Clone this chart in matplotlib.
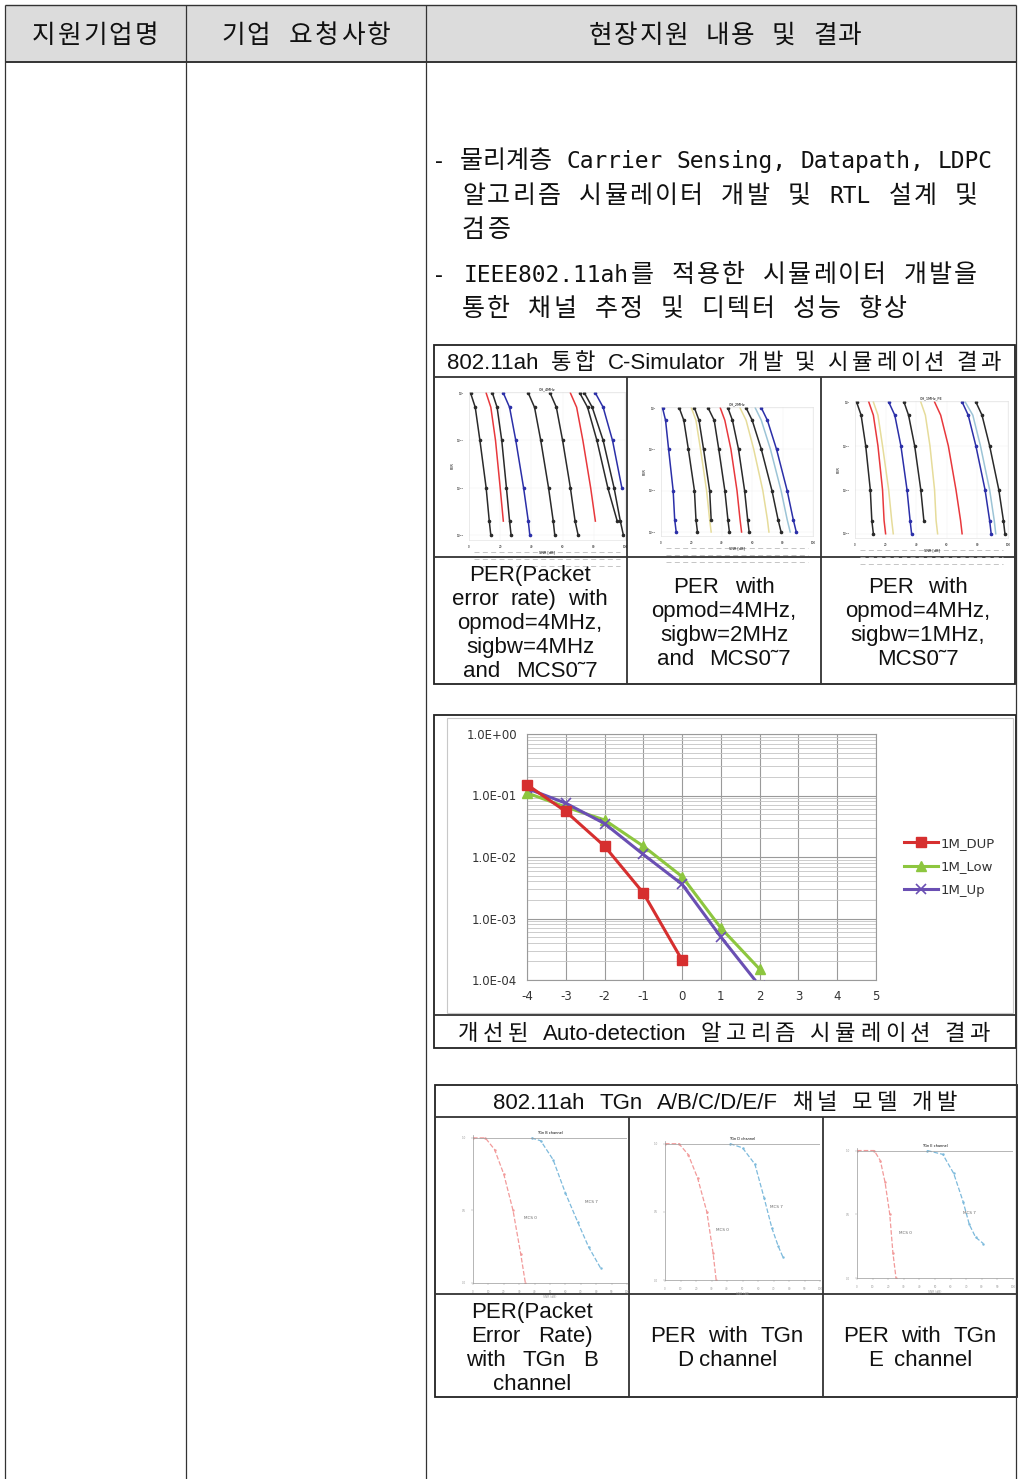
import numpy as np
import matplotlib
matplotlib.use('Agg')
import matplotlib.pyplot as plt
from matplotlib.patches import Rectangle

plt.rcParams['axes.unicode_minus'] = False

W, H = 1024, 1479

# main chart data: PER vs SNR (dB)
snr_dup = [-4, -3, -2, -1, 0]
per_dup = [0.15, 0.055, 0.015, 0.0026, 0.00021]
snr_low = [-4, -3, -2, -1, 0, 1, 2]
per_low = [0.11, 0.065, 0.04, 0.015, 0.0048, 0.0007, 0.00015]
snr_up = [-4, -3, -2, -1, 0, 1, 2]
per_up = [0.13, 0.075, 0.035, 0.011, 0.0036, 0.0005, 0.00008]
series_names = ['1M_DUP', '1M_Low', '1M_Up']

y_ticks = [1e-4, 1e-3, 1e-2, 1e-1, 1e0]
y_tick_labels = ['1.0E-04', '1.0E-03', '1.0E-02', '1.0E-01', '1.0E+00']
x_ticks = [-4, -3, -2, -1, 0, 1, 2, 3, 4, 5]

# thumbnails of table 1: PER level and SNR position of each curve at that level
thumb_per = [1, 0.5, 0.1, 0.01, 0.002, 0.001]
nan = np.nan
thumb1_curves = [
    ('k', [1, 4, 7, 11, 13, 14]),
    ('r', [11, 14, 17, 20, 22, nan]),
    ('k', [15, 18, 21, 24, 26, 27]),
    ('b', [22, 26, 30, 35, 38, 39]),
    ('k', [38, 42, 46, 51, 54, 55]),
    ('k', [52, 56, 60, 65, 68, 70]),
    ('r', [65, 69, 73, 78, 81, nan]),
    ('k', [71, 76, 82, 89, 95, nan]),
    ('k', [74, 79, 86, 93, 97, 99]),
    ('b', [81, 86, 92, 98, nan, nan]),
]
thumb2_curves = [
    ('b', [1, 3, 5, 8, 9, 10]),
    ('k', [12, 15, 18, 22, 23, 24]),
    ('y', [20, 23, 26, 30, 32, 33]),
    ('k', [22, 25, 28, 32, 33, nan]),
    ('k', [31, 35, 38, 42, 44, 45]),
    ('r', [39, 42, 46, 50, 52, 53]),
    ('k', [44, 47, 51, 55, 57, 58]),
    ('y', [52, 56, 61, 67, 70, 71]),
    ('k', [56, 60, 66, 73, 77, 79]),
    ('c', [62, 66, 72, 79, 83, 85]),
    ('b', [66, 70, 76, 83, 87, 89]),
]
thumb3_curves = [
    ('k', [1, 4, 7, 10, 11, 12]),
    ('r', [9, 12, 15, 18, 19, 20]),
    ('y', [12, 15, 18, 22, 24, 25]),
    ('b', [22, 26, 30, 34, 36, 37]),
    ('k', [32, 35, 39, 43, 45, nan]),
    ('y', [43, 46, 49, 52, 53, 54]),
    ('r', [52, 56, 61, 66, 69, 70]),
    ('b', [70, 74, 79, 85, 88, 89]),
    ('c', [72, 77, 82, 88, 91, 92]),
    ('k', [79, 83, 88, 94, 97, 98]),
]
thumb_titles = ['CH_4MHz', 'CH_2MHz', 'CH_1MHz_PE']

# thumbnails of table 2: MCS0 / MCS7 curves
tgn_red_x = [[0, 8, 14, 20, 26, 31, 34], [0, 9, 15, 21, 27, 31, 33], [0, 11, 15, 18, 21, 23, 25]]
tgn_red_y = [1, 1, 0.92, 0.75, 0.5, 0.2, 0]
tgn_blue_x = [[38, 44, 52, 60, 68, 75, 83], [42, 50, 58, 64, 69, 73, 76], [45, 55, 62, 68, 72, 76, 81]]
tgn_blue_y = [[1, 0.98, 0.85, 0.62, 0.42, 0.25, 0.1],
              [1, 0.97, 0.85, 0.6, 0.38, 0.25, 0.17],
              [1, 0.97, 0.82, 0.6, 0.42, 0.32, 0.27]]
tgn_titles = ['TGn B channel', 'TGn D channel', 'TGn E channel']

header = ['지원기업명', '기업 요청사항', '현장지원 내용 및 결과']
bullets = [
    '- 물리계층 Carrier Sensing, Datapath, LDPC',
    '알고리즘 시뮬레이터 개발 및 RTL 설계 및',
    '검증',
    '- IEEE802.11ah를 적용한 시뮬레이터 개발을',
    '통한 채널 추정 및 디텍터 성능 향상',
]
table1_title = '802.11ah 통합 C-Simulator 개발 및 시뮬레이션 결과'
table1_caps = [['PER(Packet', 'error rate) with', 'opmod=4MHz,', 'sigbw=4MHz', 'and MCS0˜7'],
               ['PER with', 'opmod=4MHz,', 'sigbw=2MHz', 'and MCS0˜7'],
               ['PER with', 'opmod=4MHz,', 'sigbw=1MHz,', 'MCS0˜7']]
chart_caption = '개선된 Auto-detection 알고리즘 시뮬레이션 결과'
table2_title = '802.11ah TGn A/B/C/D/E/F 채널 모델 개발'
table2_caps = [['PER(Packet', 'Error Rate)', 'with TGn B', 'channel'],
               ['PER with TGn', 'D channel'],
               ['PER with TGn', 'E channel']]

KR = ['DejaVu Sans Mono', 'Noto Sans CJK KR']
SANS = ['Liberation Sans', 'Noto Sans CJK KR']
COLORS = {'k': '#2a2a2a', 'r': '#e8383c', 'b': '#2b2fa8', 'y': '#e6dc9a', 'c': '#9cc4d6'}
INK = '#111111'


def px_axes(fig, x0, y0, x1, y1):
    # add an axes given pixel box (top-left origin)
    return fig.add_axes([x0 / W, 1 - y1 / H, (x1 - x0) / W, (y1 - y0) / H])


def hline(ax, y, x0, x1, lw=1.0, color='#333333'):
    ax.plot([x0, x1], [y, y], color=color, lw=lw, solid_capstyle='butt')


def vline(ax, x, y0, y1, lw=1.0, color='#333333'):
    ax.plot([x, x], [y0, y1], color=color, lw=lw, solid_capstyle='butt')


fig = plt.figure(figsize=(W / 100, H / 100), dpi=100)
page = fig.add_axes([0, 0, 1, 1])
page.set_xlim(0, W)
page.set_ylim(H, 0)
page.axis('off')
renderer = fig.canvas.get_renderer()


def text_w(s, fs, fam):
    t = page.text(0, 0, s, fontsize=fs, family=fam)
    w = t.get_window_extent(renderer).width
    t.remove()
    return w


def is_hangul(ch):
    return '\uac00' <= ch <= '\ud7a3'


def tokens(s):
    # hangul syllables and spaces are single tokens, other runs stay together
    out = []
    for ch in s:
        if ch == ' ' or is_hangul(ch):
            out.append(ch)
        elif out and out[-1] != ' ' and not is_hangul(out[-1][-1]):
            out[-1] += ch
        else:
            out.append(ch)
    return out


def spread(x0, x1, y, s, fs, fam, hfs=None, color=INK):
    # draw s so that it fills x0..x1 (HWP-style distributed spacing), y = visual middle
    hfs = hfs or fs
    toks = tokens(s)
    sp = text_w('x x', fs, fam) - text_w('xx', fs, fam)
    sizes = [hfs if is_hangul(t[0]) else fs for t in toks]
    widths = [sp if t == ' ' else text_w(t, z, fam) for t, z in zip(toks, sizes)]
    total = sum(widths)
    gap = (x1 - x0 - total) / max(len(toks) - 1, 1)
    if gap < 0 or len(toks) == 1:
        gap = 0
        x0 = (x0 + x1) / 2 - total / 2
    base = y + 0.37 * fs * 100 / 72
    x = x0
    for t, w, z in zip(toks, widths, sizes):
        if t != ' ':
            page.text(x, base, t, ha='left', va='baseline', fontsize=z, family=fam, color=color)
        x += w + gap


# outer table
page.add_patch(Rectangle((5, 5), 1011, 57, facecolor='#dcdcdc', edgecolor='none'))
hline(page, 5, 5, 1016, lw=1.0)
hline(page, 62, 5, 1016, lw=1.4)
for x in [5, 186, 426, 1016]:
    vline(page, x, 5, H, lw=0.9)
for (x0, x1), txt in zip([(32, 158), (221, 390), (589, 862)], header):
    spread(x0, x1, 34, txt, 17.5, KR, hfs=18.5)

# bullet text
bullet_x = [(432, 993), (462, 978), (462, 511), (432, 977), (462, 907)]
for (x0, x1), y, line in zip(bullet_x, [160, 195, 229, 274, 308], bullets):
    spread(x0, x1, y, line, 16.5, KR, hfs=18)

# table 1
lw_t = 1.3
page.add_patch(Rectangle((434, 345), 581, 339, facecolor='none', edgecolor='#222222', lw=lw_t))
hline(page, 377, 434, 1015, lw=lw_t)
hline(page, 557, 434, 1015, lw=lw_t)
for x in [627, 821]:
    vline(page, x, 377, 684, lw=lw_t)
spread(447, 1001, 361, table1_title, 16, SANS)
t1_widths = [[115, 156, 151, 137, 135], [102, 145, 132, 133], [100, 147, 141, 89]]
for cx, lines, ws in zip([530, 724, 918], table1_caps, t1_widths):
    y0 = 621 - 12 * (len(lines) - 1)
    for k, (line, w) in enumerate(zip(lines, ws)):
        spread(cx - w / 2, cx + w / 2, y0 + 24 * k, line, 16, SANS)

# chart box
page.add_patch(Rectangle((434, 715), 582, 333, facecolor='none', edgecolor='#222222', lw=lw_t))
hline(page, 1015, 434, 1016, lw=lw_t)
page.add_patch(Rectangle((447, 718), 566, 295, facecolor='white', edgecolor='#c8c8c8', lw=0.8))
spread(458, 990, 1032, chart_caption, 16, SANS)

# table 2
page.add_patch(Rectangle((435, 1085), 582, 312, facecolor='none', edgecolor='#222222', lw=lw_t))
hline(page, 1117, 435, 1017, lw=lw_t)
hline(page, 1294, 435, 1017, lw=lw_t)
for x in [629, 823]:
    vline(page, x, 1117, 1397, lw=lw_t)
spread(493, 957, 1101, table2_title, 16, SANS)
t2_widths = [[115, 121, 132, 93], [154, 93], [154, 104]]
for cx, lines, ws in zip([532, 727, 920], table2_caps, t2_widths):
    y0 = 1346 - 12 * (len(lines) - 1)
    for k, (line, w) in enumerate(zip(lines, ws)):
        spread(cx - w / 2, cx + w / 2, y0 + 24 * k, line, 16, SANS)

# main chart
ax = px_axes(fig, 527, 734, 876, 980)
ax.set_yscale('log')
ax.plot(snr_dup, per_dup, color='#d62f2f', lw=2.2, marker='s', ms=6.5, label=series_names[0], clip_on=False, zorder=4)
ax.plot(snr_low, per_low, color='#8dc63f', lw=2.2, marker='^', ms=6.5, label=series_names[1], clip_on=False, zorder=3)
ax.plot(snr_up, per_up, color='#6a4fb3', lw=2.2, marker='x', ms=6.5, mew=1.2, label=series_names[2], zorder=3)
ax.set_xlim(-4, 5)
ax.set_ylim(1e-4, 1)
ax.set_xticks(x_ticks)
ax.set_yticks(y_ticks)
ax.set_yticklabels(y_tick_labels)
ax.yaxis.set_minor_locator(matplotlib.ticker.LogLocator(base=10, subs=np.arange(2, 10)))
ax.yaxis.set_minor_formatter(matplotlib.ticker.NullFormatter())
ax.grid(True, which='major', color='#9a9a9a', lw=0.8)
ax.grid(True, which='minor', axis='y', color='#c4c4c4', lw=0.6)
ax.tick_params(which='both', length=0, labelsize=8.5, colors='#333333', pad=7)
for s in ax.spines.values():
    s.set_color('#9a9a9a')
    s.set_linewidth(0.8)
ax.legend(loc='center left', bbox_to_anchor=(1.045, 0.46), frameon=False, fontsize=9.5,
          handlelength=2.6, handletextpad=0.2, labelspacing=0.8, labelcolor='#333333')

# table 1 thumbnails
thumb_boxes = [(469, 392, 625, 540), (661, 407, 813, 536), (855, 401, 1008, 538)]
for (x0, y0, x1, y1), curves, title in zip(thumb_boxes, [thumb1_curves, thumb2_curves, thumb3_curves], thumb_titles):
    tax = px_axes(fig, x0, y0, x1, y1)
    tax.set_yscale('log')
    for c, xs in curves:
        mk = 'o' if c in ('k', 'b') else None
        tax.plot(xs, thumb_per, color=COLORS[c], lw=1.1, marker=mk, ms=1.6)
    tax.set_xlim(0, 100)
    tax.set_ylim(8e-4, 1.05)
    tax.set_title(title, fontsize=2.5, pad=1)
    tax.set_xlabel('SNR [dB]', fontsize=2.5, labelpad=1)
    tax.set_ylabel('PER', fontsize=2.5, labelpad=1)
    tax.tick_params(which='both', length=0, labelsize=2)
    for s in tax.spines.values():
        s.set_color('#dddddd')
        s.set_linewidth(0.4)
    tax.grid(True, color='#eeeeee', lw=0.3)
    # legend strip under the plot
    for k in range(3):
        page.plot([x0 + 5, x1 - 5], [y1 + 12 + k * 7, y1 + 12 + k * 7], color='#bbbbbb',
                  lw=0.6, ls=(0, (6, 4)))

# table 2 thumbnails
tgn_boxes = [(473, 1135, 627, 1283), (665, 1141, 820, 1280), (857, 1148, 1013, 1278)]
mcs0_pos = [(0.33, 0.43), (0.33, 0.35), (0.27, 0.34)]
mcs7_pos = [(0.73, 0.54), (0.68, 0.52), (0.68, 0.49)]
for i, (x0, y0, x1, y1) in enumerate(tgn_boxes):
    tax = px_axes(fig, x0, y0, x1, y1)
    tax.plot(tgn_red_x[i], tgn_red_y, color='#f29a9a', lw=0.9, ls='--', marker='.', ms=1.5)
    tax.plot(tgn_blue_x[i], tgn_blue_y[i], color='#7dbadc', lw=0.9, ls='--', marker='.', ms=1.5)
    tax.set_xlim(0, 100)
    tax.set_ylim(0, 1.02)
    tax.set_title(tgn_titles[i], fontsize=2.5, pad=1)
    tax.text(*mcs0_pos[i], 'MCS 0', transform=tax.transAxes, fontsize=3, color='#666666')
    tax.text(*mcs7_pos[i], 'MCS 7', transform=tax.transAxes, fontsize=3, color='#666666')
    tax.set_xticks(np.arange(0, 101, 10))
    tax.set_yticks([0, 0.5, 1])
    tax.tick_params(length=1.5, width=0.3, labelsize=2, colors='#999999')
    tax.set_xlabel('SNR (dB)', fontsize=2.2, labelpad=1, color='#999999')
    for side in ['top', 'right']:
        tax.spines[side].set_visible(False)
    for side in ['left', 'bottom']:
        tax.spines[side].set_color('#999999')
        tax.spines[side].set_linewidth(0.5)
    tax.axhline(1, color='#999999', lw=0.5)

fig.savefig('out.png', dpi=100)
